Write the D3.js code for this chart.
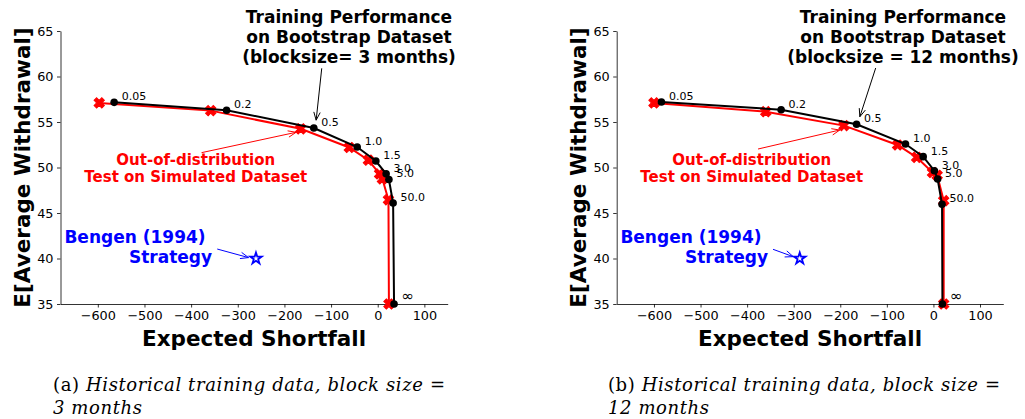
<!DOCTYPE html>
<html><head><meta charset="utf-8">
<script src="https://cdn.jsdelivr.net/npm/d3@7"></script>
<style>
html,body{margin:0;padding:0;background:#fff;}
svg{display:block;}
</style></head>
<body>
<svg id="chart" width="1025" height="419"></svg>
<script>
// ---------------- data ----------------
const pointLabels = ["0.05","0.2","0.5","1.0","1.5","3.0","5.0","50.0","\u221e"];
const xTicks = [-600,-500,-400,-300,-200,-100,0,100];
const yTicks = [35,40,45,50,55,60,65];

const leftTrainX = [-565,-324,-137,-44,-4,18,24,33,35];
const leftTrainY = [57.16,56.29,54.34,52.25,50.71,49.3,48.68,46.1,35];
const leftTestX  = [-597,-358,-165,-61,-20,4,10,23,24];
const leftTestY  = [57.1,56.25,54.25,52.2,50.8,49.3,48.75,46.45,35];
const leftBengen = [-261,40];

const rightTrainX = [-584,-327,-165,-60,-22,2,9,18.5,19.3];
const rightTrainY = [57.2,56.35,54.75,52.58,51.19,49.65,48.74,45.95,35];
const rightTestX  = [-600,-360,-192,-77,-36,-2,8,22,22];
const rightTestY  = [57.1,56.13,54.6,52.47,51.12,49.45,49.15,46.35,35];
const rightBengen = [-287,40];

const titleLeft  = ["Training Performance","on Bootstrap Dataset","(blocksize= 3 months)"];
const titleRight = ["Training Performance","on Bootstrap Dataset","(blocksize = 12 months)"];
const oodText = ["Out-of-distribution","Test on Simulated Dataset"];
const bengenText = ["Bengen (1994)","Strategy"];
const captionA = ["(a) ","Historical training data, block size ","=","3 months"];
const captionB = ["(b) ","Historical training data, block size ","=","12 months"];

// ---------------- drawing ----------------
const svg = d3.select("#chart");
const SANS = "DejaVu Sans, sans-serif";

function arrow(g, x1, y1, x2, y2, color, lw) {
  const a = Math.atan2(y2 - y1, x2 - x1);
  const hl = 8, hw = 3.2;
  const bx = x2 - hl*Math.cos(a), by = y2 - hl*Math.sin(a);
  const nx = -Math.sin(a), ny = Math.cos(a);
  g.append("path")
    .attr("d", `M${x1},${y1}L${x2},${y2}M${bx+nx*hw},${by+ny*hw}L${x2},${y2}L${bx-nx*hw},${by-ny*hw}`)
    .attr("fill","none").attr("stroke",color).attr("stroke-width",lw)
    .attr("stroke-linejoin","miter");
}

function panel(cfg) {
  const x = d3.scaleLinear().domain([-680,150]).range([cfg.x0, cfg.x1]);
  const y = d3.scaleLinear().domain([35,65]).range([304,31]);
  const g = svg.append("g");

  // axes
  const ax = g.append("g").attr("transform",`translate(0,${y(35)})`)
    .call(d3.axisBottom(x).tickValues(xTicks).tickSize(3.5).tickSizeOuter(0).tickPadding(3.5));
  const ay = g.append("g").attr("transform",`translate(${x(-680)},0)`)
    .call(d3.axisLeft(y).tickValues(yTicks).tickSize(3.5).tickSizeOuter(0).tickPadding(3.5));
  [ax, ay].forEach(a => {
    a.selectAll("text").attr("font-family",SANS).attr("font-size","12.8px").attr("fill","#000");
    a.selectAll("line").attr("stroke","#000").attr("stroke-width",0.8);
    a.select(".domain").attr("stroke","#000").attr("stroke-width",0.8);
  });

  // axis titles
  g.append("text").attr("x",(cfg.x0+cfg.x1)/2).attr("y",338).attr("dy","0.35em")
    .attr("text-anchor","middle").attr("font-family",SANS).attr("font-weight","bold")
    .attr("font-size","21.5px").text("Expected Shortfall");
  g.append("text").attr("transform",`translate(${cfg.x0-38.5},167.5) rotate(-90)`).attr("dy","0.35em")
    .attr("text-anchor","middle").attr("font-family",SANS).attr("font-weight","bold")
    .attr("font-size","21.5px").text("E[Average Withdrawal]");

  const line = d3.line().x(d => x(d[0])).y(d => y(d[1]));
  const test = cfg.testX.map((v,i) => [v, cfg.testY[i]]);
  const train = cfg.trainX.map((v,i) => [v, cfg.trainY[i]]);

  // red test curve
  g.append("path").datum(test).attr("d",line).attr("fill","none")
    .attr("stroke","#ff0000").attr("stroke-width",2);
  const xsym = d3.symbol().type(d3.symbolCross).size(66);
  g.selectAll(".tx").data(test).enter().append("path")
    .attr("d",xsym).attr("transform",d => `translate(${x(d[0])},${y(d[1])}) rotate(45)`)
    .attr("fill","#ff0000").attr("stroke","#ff0000").attr("stroke-width",1);

  // black training curve
  g.append("path").datum(train).attr("d",line).attr("fill","none")
    .attr("stroke","#000").attr("stroke-width",2);
  g.selectAll(".tr").data(train).enter().append("circle")
    .attr("cx",d => x(d[0])).attr("cy",d => y(d[1])).attr("r",3.8).attr("fill","#000");

  // point labels
  g.selectAll(".pl").data(train).enter().append("text")
    .attr("x",d => x(d[0]) + 7.5).attr("y",(d,i) => y(d[1]) - (i === 8 ? 8 : 6)).attr("dy","0.35em")
    .attr("font-family",SANS).attr("font-size",(d,i) => i === 8 ? "15px" : "11px").attr("fill","#000")
    .text((d,i) => pointLabels[i]);

  // Bengen star
  g.append("path").attr("d",d3.symbol().type(d3.symbolStar).size(40))
    .attr("transform",`translate(${x(cfg.bengen[0])},${y(cfg.bengen[1])})`)
    .attr("fill","#fff").attr("stroke","#0000ff").attr("stroke-width",1.8);

  // title annotation
  cfg.title.forEach((t,i) => {
    g.append("text").attr("x",cfg.titleX).attr("y",17.5 + i*20).attr("dy","0.35em")
      .attr("text-anchor","middle").attr("font-family",SANS).attr("font-weight","bold")
      .attr("font-size","17px").attr("fill","#000").text(t);
  });
  arrow(g, x(cfg.blackArrow[0]), y(cfg.blackArrow[1]), x(cfg.blackArrow[2]), y(cfg.blackArrow[3]), "#000", 1);

  // OOD annotation
  oodText.forEach((t,i) => {
    g.append("text").attr("x",x(-390)).attr("y",y(50.8) + i*17).attr("dy","0.35em")
      .attr("text-anchor","middle").attr("font-family",SANS).attr("font-weight","bold")
      .attr("font-size","15px").attr("fill","#ff0000").text(t);
  });
  arrow(g, x(cfg.redArrow[0]), y(cfg.redArrow[1]), x(cfg.redArrow[2]), y(cfg.redArrow[3]), "#ff0000", 1);

  // Bengen annotation
  g.append("text").attr("x",x(-369)).attr("y",y(42.33)).attr("dy","0.35em")
    .attr("text-anchor","end").attr("font-family",SANS).attr("font-weight","bold")
    .attr("font-size","17px").attr("fill","#0000ff").text(bengenText[0]);
  g.append("text").attr("x",x(-355)).attr("y",y(40.17)).attr("dy","0.35em")
    .attr("text-anchor","end").attr("font-family",SANS).attr("font-weight","bold")
    .attr("font-size","17px").attr("fill","#0000ff").text(bengenText[1]);
  arrow(g, x(cfg.blueArrow[0]), y(cfg.blueArrow[1]), x(cfg.blueArrow[2]), y(cfg.blueArrow[3]), "#0000ff", 1);

  // caption
  const SERIF = "DejaVu Serif, Liberation Serif, serif";
  const fs = 18;
  const cap1 = g.append("text").attr("x",cfg.capX).attr("y",391)
    .attr("font-family",SERIF).attr("font-size", fs + "px").attr("fill","#000")
    .attr("textLength", 392).attr("lengthAdjust","spacing");
  cap1.append("tspan").text(cfg.caption[0]);
  cap1.append("tspan").attr("font-style","italic").text(cfg.caption[1]);
  cap1.append("tspan").text(cfg.caption[2]);
  g.append("text").attr("x",cfg.capX).attr("y",414)
    .attr("font-family",SERIF).attr("font-style","italic").attr("font-size", fs + "px")
    .attr("letter-spacing","0.6px")
    .attr("fill","#000").text(cfg.caption[3]);
}

panel({x0:60.5, x1:447.7, trainX:leftTrainX, trainY:leftTrainY, testX:leftTestX, testY:leftTestY,
  bengen:leftBengen, title:titleLeft, titleX:349,
  blackArrow:[-120,60.9,-132,55.2], redArrow:[-377.7,51.63,-175,53.87], blueArrow:[-344,41.04,-277,40.1],
  caption:captionA, capX:53});
panel({x0:616.7, x1:1003.3, trainX:rightTrainX, trainY:rightTrainY, testX:rightTestX, testY:rightTestY,
  bengen:rightBengen, title:titleRight, titleX:903,
  blackArrow:[-124,60.93,-158,55.58], redArrow:[-376.6,52.03,-201,54.12], blueArrow:[-344.4,41.01,-301,40.2],
  caption:captionB, capX:608});
</script>
</body></html>
